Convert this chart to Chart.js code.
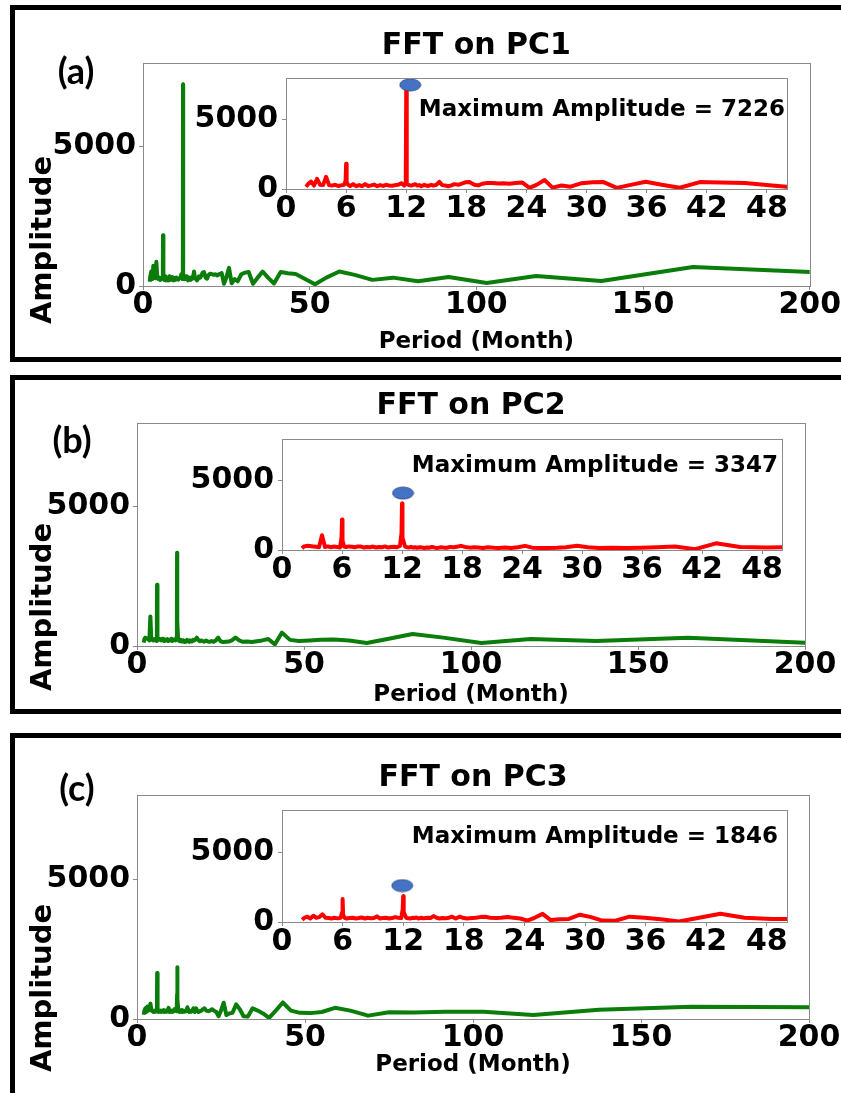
<!DOCTYPE html>
<html>
<head>
<meta charset="utf-8">
<script src="https://cdn.jsdelivr.net/npm/chart.js@4.4.0/dist/chart.umd.min.js"></script>
<style>
  html, body { margin: 0; padding: 0; background: #fff; }
  body { position: relative; width: 841px; height: 1093px; overflow: hidden; }
  .frame { position: absolute; border: 5px solid #000; box-sizing: border-box; }
  canvas { position: absolute; }
</style>
</head>
<body>
<div class="frame" style="left:10px; top:5px; width:900px; height:357px"></div>
<div class="frame" style="left:10px; top:375px; width:900px; height:339px"></div>
<div class="frame" style="left:10px; top:733px; width:900px; height:420px"></div>
<script>
// period (months) of each FFT component, shared by the three PCs
var periods = [
    2.0, 2.2, 2.5, 2.8, 3.1, 3.4, 3.7, 4.0, 4.3, 4.6,
    4.9, 5.2, 5.5, 5.8, 5.95, 6.0, 6.05, 6.2, 6.4, 6.7,
    7.0, 7.3, 7.6, 7.9, 8.2, 8.5, 8.8, 9.1, 9.4, 9.7,
    10.0, 10.3, 10.6, 10.9, 11.2, 11.5, 11.8, 11.95, 12.0, 12.05,
    12.3, 12.5, 12.7, 12.9, 13.1, 13.3, 13.5, 13.8, 14.0, 14.2,
    14.5, 14.7, 15.0, 15.3, 15.6, 15.9, 16.2, 16.5, 16.8, 17.2,
    17.6, 17.9, 18.3, 18.8, 19.2, 19.6, 20.1, 20.6, 21.2, 21.7,
    22.3, 22.9, 23.6, 24.3, 25.0, 25.8, 26.6, 27.5, 28.4, 29.5,
    30.6, 31.7, 33.0, 34.4, 35.9, 37.5, 39.3, 41.3, 43.4, 45.8,
    48.5, 51.6, 55.0, 58.9, 63.5, 68.8, 75.0, 82.5, 91.7, 103.1,
    117.9, 137.5, 165.0, 206.3
];

var ampPC1 = [
    150, 350, 530, 250, 730, 300, 280, 870, 280, 250,
    300, 220, 260, 300, 600, 1820, 500, 300, 220, 350,
    200, 280, 200, 350, 220, 260, 320, 200, 280, 220,
    300, 250, 230, 280, 300, 420, 250, 400, 7226, 350,
    280, 250, 300, 350, 250, 280, 200, 300, 250, 220,
    300, 250, 300, 520, 280, 250, 200, 260, 350, 300,
    400, 480, 500, 300, 260, 380, 440, 430, 400, 420,
    380, 430, 460, 80, 300, 650, 100, 250, 170, 420,
    480, 500, 80, 300, 520, 300, 90, 500, 460, 430,
    260, 60, 300, 520, 400, 220, 300, 170, 320, 110,
    360, 180, 680, 470
];

var ampPC2 = [
    120, 250, 300, 280, 260, 240, 200, 1060, 220, 260,
    200, 250, 220, 180, 900, 2200, 700, 250, 220, 260,
    240, 200, 260, 250, 180, 220, 200, 250, 180, 220,
    200, 260, 180, 220, 240, 200, 300, 1200, 3347, 900,
    250, 200, 180, 220, 170, 200, 160, 200, 180, 150,
    180, 160, 220, 170, 150, 200, 170, 160, 220, 200,
    250, 300, 220, 170, 200, 180, 150, 200, 160, 150,
    180, 150, 200, 300, 170, 140, 150, 160, 200, 300,
    200, 150, 160, 140, 170, 200, 250, 60, 480, 220,
    180, 200, 220, 230, 200, 110, 250, 430, 300, 110,
    250, 180, 300, 80
];

var ampPC3 = [
    150, 300, 380, 250, 450, 300, 350, 550, 300, 280,
    250, 300, 260, 300, 700, 1640, 500, 300, 250, 280,
    300, 250, 280, 320, 250, 300, 260, 280, 400, 250,
    280, 300, 250, 280, 350, 300, 280, 900, 1846, 700,
    300, 260, 250, 300, 280, 320, 250, 300, 260, 280,
    300, 280, 420, 300, 250, 280, 260, 300, 380, 250,
    380, 300, 250, 280, 300, 350, 380, 300, 280, 300,
    350, 300, 250, 100, 300, 580, 140, 200, 220, 520,
    350, 100, 90, 380, 300, 200, 40, 300, 590, 300,
    220, 210, 250, 400, 300, 120, 240, 230, 260, 260,
    140, 330, 440, 420
];

var titles = ['FFT on PC1', 'FFT on PC2', 'FFT on PC3'];
var panelLetters = ['(a)', '(b)', '(c)'];
var maxAmplitudes = [7226, 3347, 1846];
var markerPeriods = [12.4, 12.1, 11.9];
var markerAmps = [7500, 4100, 2600];
var mainXTicks = [0, 50, 100, 150, 200];
var insetXTicks = [0, 6, 12, 18, 24, 30, 36, 42, 48];
var yTicks = [0, 5000];

// page geometry of each panel (pixels)
var panels = [
    { amps: ampPC1, top: 0, height: 362, area: [143, 63, 810, 286], xTitleGap: 56, ampY: 240, letter: [76, 72], inset: [286, 78, 787, 189], note: [2, 32] },
    { amps: ampPC2, top: 362, height: 358, area: [137, 423, 805, 646], xTitleGap: 49, ampY: 607, letter: [72, 441], inset: [282, 439, 782, 550], note: [4, 27] },
    { amps: ampPC3, top: 720, height: 373, area: [137, 795, 809, 1019], xTitleGap: 46, ampY: 988, letter: [77, 789], inset: [282, 810, 787, 922], note: [9, 27] }
];

var FONT = "'DejaVu Sans', sans-serif";
var SPINE = '#8a8a8a';

function makeCanvas(left, top, w, h) {
    var c = document.createElement('canvas');
    c.width = w; c.height = h;
    c.style.left = left + 'px'; c.style.top = top + 'px';
    c.style.width = w + 'px'; c.style.height = h + 'px';
    document.body.appendChild(c);
    return c;
}

function toPoints(amps) {
    return periods.map(function (p, i) { return { x: p, y: amps[i] }; });
}

// blue ellipse used as the marker of the maximum
var ellipse = document.createElement('canvas');
ellipse.width = 23; ellipse.height = 14;
(function () {
    var g = ellipse.getContext('2d');
    g.beginPath();
    g.ellipse(11.5, 7, 10.5, 6, 0, 0, Math.PI * 2);
    g.fillStyle = '#4472c4';
    g.fill();
    g.lineWidth = 1;
    g.strokeStyle = '#2f528f';
    g.stroke();
})();

var framePlugin = {
    id: 'frame',
    afterDatasetsDraw: function (chart) {
        var a = chart.chartArea, ctx = chart.ctx;
        ctx.save();
        ctx.strokeStyle = SPINE;
        ctx.lineWidth = 1;
        ctx.strokeRect(Math.round(a.left) + 0.5, Math.round(a.top) + 0.5, Math.round(a.right - a.left), Math.round(a.bottom - a.top));
        ctx.restore();
    }
};

var tickFont = { family: FONT, size: 30, weight: 'bold', lineHeight: 1 };

function axisStyle(tickValues, min, max, fixSize) {
    return {
        type: 'linear',
        min: min,
        max: max,
        afterBuildTicks: function (axis) {
            axis.ticks = tickValues.map(function (v) { return { value: v }; });
        },
        afterFit: fixSize,
        grid: { display: true, drawOnChartArea: false, drawTicks: true, tickLength: 4, color: SPINE },
        border: { display: true, color: SPINE, width: 1 },
        ticks: {
            font: tickFont,
            color: '#000',
            padding: 2,
            callback: function (v) { return String(v); }
        }
    };
}

panels.forEach(function (P, k) {
    // ---- main chart ----
    var ct = P.top;
    var aL = P.area[0], aT = P.area[1] - ct, aR = P.area[2], aB = P.area[3] - ct;
    var xAxisH = P.xTitleGap + 11.5;
    var canvas = makeCanvas(0, ct, 841, P.height);

    var labelsPlugin = {
        id: 'panelLabels',
        afterDraw: function (chart) {
            var ctx = chart.ctx;
            ctx.save();
            ctx.fillStyle = '#000';
            ctx.textAlign = 'center';
            ctx.textBaseline = 'middle';
            ctx.font = 'bold 36px Lato, sans-serif';
            ctx.fillText(panelLetters[k], P.letter[0], P.letter[1] - ct);
            ctx.translate(43, P.ampY - ct);
            ctx.rotate(-Math.PI / 2);
            ctx.font = 'bold 29px ' + FONT;
            ctx.fillText('Amplitude', 0, 0);
            ctx.restore();
        }
    };

    var xAxis = axisStyle(mainXTicks, 0, 200, function (axis) { axis.height = xAxisH; });
    xAxis.ticks.padding = 0;
    xAxis.title = { display: true, text: 'Period (Month)', color: '#000', padding: 0,
        font: { family: FONT, size: 23, weight: 'bold', lineHeight: 1 } };
    var yAxis = axisStyle(yTicks, 0, 8000, function (axis) { axis.width = aL - 40; });
    yAxis.ticks.padding = 3;

    new Chart(canvas.getContext('2d'), {
        type: 'line',
        data: {
            datasets: [{
                data: toPoints(P.amps),
                borderColor: '#0a7d0a',
                borderWidth: 4,
                borderJoinStyle: 'round',
                pointRadius: 0,
                tension: 0
            }]
        },
        options: {
            responsive: false,
            animation: false,
            events: [],
            devicePixelRatio: 1,
            layout: { padding: { left: 40, top: aT - 32, right: 841 - aR, bottom: P.height - (aB + xAxisH) } },
            scales: { x: xAxis, y: yAxis },
            plugins: {
                legend: { display: false },
                tooltip: { enabled: false },
                title: {
                    display: true,
                    text: titles[k],
                    fullSize: false,
                    color: '#000',
                    padding: { top: 0, bottom: 2 },
                    font: { family: FONT, size: 30, weight: 'bold', lineHeight: 1 }
                }
            }
        },
        plugins: [framePlugin, labelsPlugin]
    });

    // ---- inset chart ----
    var iL = P.inset[0], iT = P.inset[1], iR = P.inset[2], iB = P.inset[3];
    var cl = iL - 100, cTop = iT - 24;
    var cw = iR + 30 - cl, ch = iB + 46 - cTop;
    var inset = makeCanvas(cl, cTop, cw, ch);

    var notePlugin = {
        id: 'maxNote',
        afterDraw: function (chart) {
            var a = chart.chartArea, ctx = chart.ctx;
            ctx.save();
            ctx.fillStyle = '#000';
            ctx.textAlign = 'right';
            ctx.textBaseline = 'middle';
            ctx.font = 'bold 23px ' + FONT;
            ctx.fillText('Maximum Amplitude = ' + maxAmplitudes[k], a.right - P.note[0], a.top + P.note[1]);
            ctx.restore();
        }
    };

    var ix = axisStyle(insetXTicks, 0, 50, function (axis) { axis.height = 46; });
    ix.ticks.padding = 1;
    var iy = axisStyle(yTicks, 0, 8000, function (axis) { axis.width = 100; });
    iy.ticks.padding = 4;

    new Chart(inset.getContext('2d'), {
        type: 'line',
        data: {
            datasets: [{
                data: [{ x: markerPeriods[k], y: markerAmps[k] }],
                showLine: false,
                pointStyle: ellipse,
                pointRadius: 7
            }, {
                data: toPoints(P.amps),
                borderColor: '#ff0000',
                borderWidth: 4,
                borderJoinStyle: 'round',
                pointRadius: 0,
                tension: 0
            }]
        },
        options: {
            responsive: false,
            animation: false,
            events: [],
            devicePixelRatio: 1,
            layout: { padding: { left: 0, top: 24, right: 30, bottom: 0 } },
            scales: { x: ix, y: iy },
            plugins: { legend: { display: false }, tooltip: { enabled: false } }
        },
        plugins: [framePlugin, notePlugin]
    });
});
</script>
</body>
</html>
